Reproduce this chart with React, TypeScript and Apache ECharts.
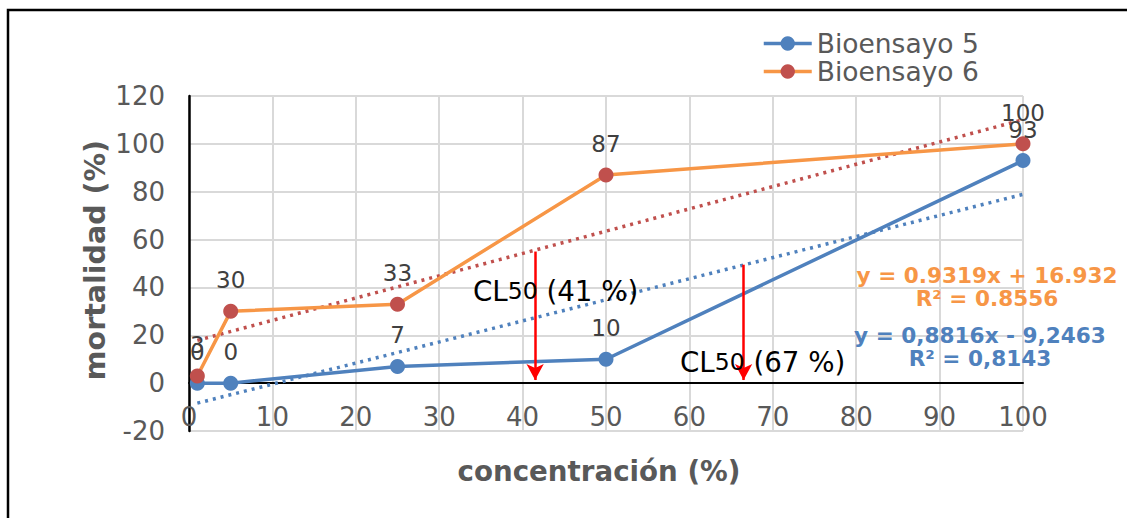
import React, { useEffect, useRef } from "react";
import * as echarts from "echarts";

const concentracion = [1, 5, 25, 50, 100];
const bioensayo5 = [0, 0, 7, 10, 93];
const bioensayo6 = [3, 30, 33, 87, 100];
// trendline end points (x, y)
const trend5 = [
  [1, -8.36],
  [100, 78.9],
];
const trend6 = [
  [1, 17.86],
  [100, 110.1],
];
// CL50 arrows: x position, top value, bottom value
const clArrowX = [41.5, 66.5];
const clArrowTop = [55, 49.5];
const clArrowBottom = [1.3, 1.3];
const clLabels = ["(41 %)", "(67 %)"];
const eq6 = ["y = 0.9319x + 16.932", "R² = 0.8556"];
const eq5 = ["y = 0,8816x - 9,2463", "R² = 0,8143"];

const FONT = "DejaVu Sans";
const BLUE = "#4F81BD";
const ORANGE = "#F79646";
const RED = "#C0504D";

export default function App() {
  const ref = useRef<HTMLDivElement>(null);
  useEffect(() => {
    if (!ref.current) return;
    const chart = echarts.init(ref.current, undefined, { renderer: "svg" });
    const pts = (ys: number[]) => concentracion.map((x, i) => [x, ys[i]]);
    const dataLabel = {
      show: true,
      position: "top",
      distance: 12,
      color: "#404040",
      fontSize: 23,
      fontFamily: FONT,
    };
    const option: any = {
      animation: false,
      textStyle: { fontFamily: FONT },
      grid: { left: 189, right: 104, top: 96, bottom: 87 },
      legend: {
        orient: "vertical",
        left: 757,
        top: 25,
        itemWidth: 48,
        itemHeight: 18,
        itemGap: 1,
        lineStyle: { width: 3.5 },
        data: ["Bioensayo 5", "Bioensayo 6"],
        textStyle: { color: "#595959", fontSize: 26.5, fontFamily: FONT },
      },
      xAxis: {
        type: "value",
        min: 0,
        max: 100,
        interval: 10,
        axisLine: { show: true, onZero: true, lineStyle: { color: "#000", width: 2 } },
        axisTick: { show: false },
        axisLabel: { color: "#595959", fontSize: 26, margin: -27, fontFamily: FONT },
        splitLine: { show: true, lineStyle: { color: "#D9D9D9", width: 2 } },
      },
      yAxis: {
        type: "value",
        min: -20,
        max: 120,
        interval: 20,
        axisLine: { show: true, lineStyle: { color: "#000", width: 2.5 } },
        axisTick: { show: false },
        axisLabel: { color: "#595959", fontSize: 26, margin: 24, fontFamily: FONT },
        splitLine: { show: true, lineStyle: { color: "#D9D9D9", width: 2 } },
      },
      series: [
        {
          name: "trend6",
          type: "line",
          data: trend6,
          symbol: "none",
          silent: true,
          lineStyle: { color: RED, width: 3.5, type: [3, 5] },
          z: 2,
        },
        {
          name: "trend5",
          type: "line",
          data: trend5,
          symbol: "none",
          silent: true,
          lineStyle: { color: BLUE, width: 3.5, type: [3, 5] },
          z: 2,
          markLine: {
            silent: true,
            symbol: ["none", "arrow"],
            symbolSize: [13, 16],
            label: { show: false },
            lineStyle: { color: "#FF0000", width: 2.5, type: "solid" },
            data: clArrowX.map((x, i) => [
              { coord: [x, clArrowTop[i]] },
              { coord: [x, clArrowBottom[i]] },
            ]),
          },
        },
        {
          name: "Bioensayo 5",
          type: "line",
          data: pts(bioensayo5),
          symbol: "circle",
          symbolSize: 15,
          itemStyle: { color: BLUE },
          lineStyle: { color: BLUE, width: 3.5 },
          label: dataLabel,
          z: 4,
        },
        {
          name: "Bioensayo 6",
          type: "line",
          data: pts(bioensayo6),
          symbol: "circle",
          symbolSize: 15,
          itemStyle: { color: RED },
          lineStyle: { color: ORANGE, width: 3.5 },
          label: dataLabel,
          z: 4,
        },
      ],
      graphic: [
        {
          type: "rect",
          shape: { x: 8, y: 10, width: 1300, height: 700 },
          style: { fill: "none", stroke: "#000", lineWidth: 2.5 },
          silent: true,
        },
        {
          type: "text",
          x: 95,
          y: 260,
          rotation: Math.PI / 2,
          style: {
            text: "mortalidad (%)",
            fill: "#595959",
            font: `bold 28.5px "${FONT}"`,
            align: "center",
            verticalAlign: "middle",
          },
        },
        {
          type: "text",
          x: 599,
          y: 471,
          style: {
            text: "concentración (%)",
            fill: "#595959",
            font: `bold 27.7px "${FONT}"`,
            align: "center",
            verticalAlign: "middle",
          },
        },
        {
          type: "text",
          x: 473,
          y: 291,
          style: {
            text: `{a|CL}{b|50}{a| ${clLabels[0]}}`,
            verticalAlign: "middle",
            rich: {
              a: { fontSize: 27.7, fontFamily: FONT, fill: "#000" },
              b: { fontSize: 23.5, fontFamily: FONT, fill: "#000" },
            },
          },
          z: 10,
        },
        {
          type: "text",
          x: 680,
          y: 362,
          style: {
            text: `{a|CL}{b|50}{a| ${clLabels[1]}}`,
            verticalAlign: "middle",
            rich: {
              a: { fontSize: 27.7, fontFamily: FONT, fill: "#000" },
              b: { fontSize: 23.5, fontFamily: FONT, fill: "#000" },
            },
          },
          z: 10,
        },
        {
          type: "text",
          x: 987,
          y: 287,
          style: {
            text: eq6.join("\n"),
            fill: ORANGE,
            font: `bold 21.6px "${FONT}"`,
            lineHeight: 23,
            align: "center",
            verticalAlign: "middle",
          },
          z: 10,
        },
        {
          type: "text",
          x: 980,
          y: 347,
          style: {
            text: eq5.join("\n"),
            fill: BLUE,
            font: `bold 21.6px "${FONT}"`,
            lineHeight: 23,
            align: "center",
            verticalAlign: "middle",
          },
          z: 10,
        },
      ],
    };
    chart.setOption(option);
    return () => chart.dispose();
  }, []);
  return (
    <div
      ref={ref}
      style={{ position: "fixed", left: 0, top: 0, width: 1127, height: 518, background: "#fff" }}
    />
  );
}
